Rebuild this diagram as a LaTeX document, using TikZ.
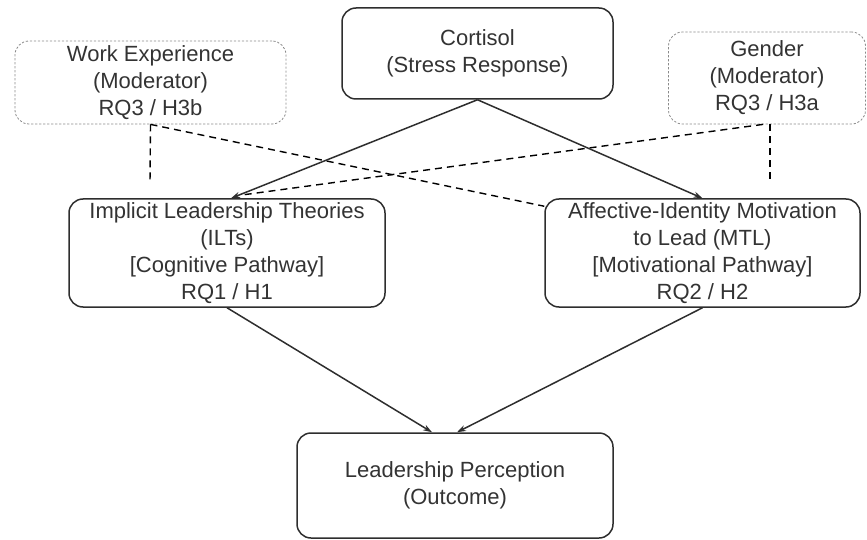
\documentclass[tikz,border=0pt]{standalone}
\usepackage{fontspec}
\setmainfont{Liberation Sans}
\usetikzlibrary{arrows.meta}
\definecolor{inkgrey}{HTML}{333333}
\definecolor{boxline}{HTML}{2E2E2E}
\definecolor{modline}{HTML}{8A8A8A}
\tikzset{
  construct/.style={draw=boxline, line width=1.5pt, rounded corners=14pt,
    align=center, text=inkgrey, inner sep=0pt,
    font=\fontsize{22}{27}\selectfont},
  moderator/.style={construct, draw=modline, line width=0.8pt,
    dash pattern=on 2.2pt off 1.8pt},
  path/.style={draw=boxline, line width=1.5pt,
    -{Stealth[length=9pt,width=6pt]}},
  modlink/.style={draw=black, line width=1.4pt, dash pattern=on 7pt off 5pt},
}
\begin{document}
\begin{tikzpicture}[x=1pt, y=-1pt]
  \useasboundingbox (0,0) rectangle (867,540);

  % constructs
  \node[moderator, minimum width=271pt, minimum height=83pt] (we) at (150.5,82.5)
    {Work Experience\\(Moderator)\\RQ3 / H3b};
  \node[construct, minimum width=271pt, minimum height=91pt] (cort) at (477.5,53.5)
    {Cortisol\\(Stress Response)};
  \node[moderator, minimum width=197pt, minimum height=92pt] (gen) at (767,78)
    {Gender\\(Moderator)\\RQ3 / H3a};
  \node[construct, minimum width=316pt, minimum height=108pt] (ilt) at (227,253)
    {Implicit Leadership Theories\\(ILTs)\\{[Cognitive Pathway]}\\RQ1 / H1};
  \node[construct, minimum width=315pt, minimum height=108pt] (mtl) at (702.5,253)
    {Affective-Identity Motivation\\to Lead (MTL)\\{[Motivational Pathway]}\\RQ2 / H2};
  \node[construct, minimum width=316pt, minimum height=105pt] (lp) at (455,485.5)
    {Leadership Perception\\(Outcome)};

  % free ends of the vertical moderator stubs
  \coordinate (westub) at (150,183);
  \coordinate (genstub) at (770,183);

  % moderating links
  \draw[modlink] (we.south) -- (westub);
  \draw[modlink] (gen.south -| genstub) -- (genstub);
  \draw[modlink] (we.south) -- ([yshift=-8pt]mtl.north west);
  \draw[modlink] ([xshift=-4pt]gen.south) -- ([xshift=13pt,yshift=3pt]ilt.north);

  % causal paths
  \draw[path] (cort.south) -- ([xshift=4pt]ilt.north);
  \draw[path] (cort.south) -- (mtl.north);
  \draw[path] (ilt.south) -- ([xshift=-23pt]lp.north);
  \draw[path] (mtl.south) -- ([xshift=2pt]lp.north);
\end{tikzpicture}
\end{document}
